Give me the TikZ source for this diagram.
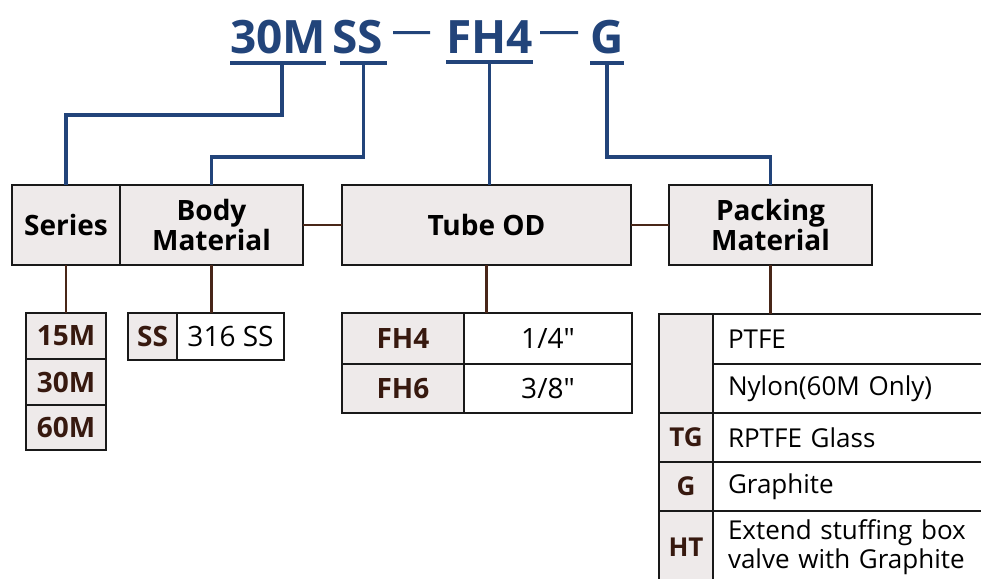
\documentclass[tikz,border=0pt]{standalone}
\usepackage{fontspec}
\setmainfont{Open Sans}[Ligatures=TeXOff]
\usetikzlibrary{positioning}

\definecolor{codeblue}{RGB}{34,68,122}
\definecolor{headgray}{RGB}{238,234,234}
\definecolor{boxline}{RGB}{25,25,25}
\definecolor{feedbrown}{RGB}{72,38,24}
\definecolor{codebrown}{RGB}{55,25,15}

\begin{document}
\begin{tikzpicture}[
        x=1pt, y=-1pt,
        header/.style={rectangle, draw=boxline, line width=2.5pt, fill=headgray, minimum height=80pt, inner sep=0pt, outer sep=0pt, align=center, font=\bfseries\fontsize{28}{30}\selectfont},
        code/.style={inner sep=0pt, text=codeblue, font=\bfseries\fontsize{46}{46}\selectfont},
        codeline/.style={draw=codeblue, line width=4pt},
        codedash/.style={draw=codeblue, line width=3pt},
        link/.style={draw=codeblue, line width=3.5pt},
        feed/.style={draw=feedbrown, line width=2.5pt},
        keycell/.style={rectangle, draw=boxline, line width=2.5pt, fill=headgray, inner sep=0pt, outer sep=0pt, text=codebrown, font=\bfseries\fontsize{28}{30}\selectfont},
        valcell/.style={rectangle, draw=boxline, line width=2.5pt, fill=white, inner sep=0pt, outer sep=0pt, font=\fontsize{28}{30}\selectfont},
        packkey/.style={keycell, minimum width=54pt, font=\bfseries\fontsize{26}{28}\selectfont},
        packval/.style={valcell, minimum width=300pt, text width=270pt, align=left, font=\fontsize{26}{29}\selectfont}
    ]
        \useasboundingbox (0,0) rectangle (981,578);
        \clip (0,0) rectangle (981,578);

        % Part number
        \node[code, anchor=base west] (c30m) at (230,53) {30M};
        \node[code, anchor=base west] (css) at (332,53) {SS};
        \node[code, anchor=base west] (cfh) at (446,53) {FH4};
        \node[code, anchor=base west] (cg) at (590,53) {G};
        \draw[codedash, shorten <=10pt, shorten >=16pt] ([yshift=4pt]css.east) -- ([yshift=4pt]cfh.west);
        \draw[codedash, shorten <=7pt, shorten >=12pt] ([yshift=4pt]cfh.east) -- ([yshift=4pt]cg.west);

        % Underlines
        \draw[codeline] ([yshift=-9pt]c30m.south west) -- ([yshift=-9pt]c30m.south east);
        \draw[codeline] ([xshift=8pt, yshift=-9pt]css.south west) -- ([xshift=4pt, yshift=-9pt]css.south east);
        \draw[codeline] ([yshift=-9pt]cfh.south west) -- ([yshift=-9pt]cfh.south east);
        \draw[codeline] ([yshift=-9pt]cg.south west) -- ([yshift=-9pt]cg.south east);
        \coordinate (u30m) at ([xshift=4pt, yshift=-9pt]c30m.south);
        \coordinate (uss) at ([xshift=6pt, yshift=-9pt]css.south);
        \coordinate (ufh) at ([yshift=-9pt]cfh.south);
        \coordinate (ug) at ([yshift=-9pt]cg.south);

        % Headers
        \node[header, minimum width=108pt] (series) at (66,225) {Series};
        \node[header, minimum width=183pt, right=0pt of series] (body) {Body\\Material};
        \node[header, minimum width=289pt] (tube) at (486.5,225) {Tube OD};
        \node[header, minimum width=203pt] (packing) at (770.5,225) {Packing\\Material};

        % Links from part number
        \coordinate (bendhigh) at (0,115);
        \coordinate (bendlow) at (0,157);
        \draw[link] (u30m) -- (u30m |- bendhigh) -| (series.north);
        \draw[link] (uss) -- (uss |- bendlow) -| (body.north);
        \draw[link] (ufh) -- (ufh |- tube.north);
        \draw[link] (ug) -- (ug |- bendlow) -| (packing.north);

        % Series
        \node[keycell, minimum width=80pt, minimum height=46pt, below=48pt of series] (s15) {15M};
        \node[keycell, minimum width=80pt, minimum height=46pt, below=0pt of s15] (s30) {30M};
        \node[keycell, minimum width=80pt, minimum height=45pt, below=0pt of s30] (s60) {60M};

        % Body material
        \node[keycell, minimum width=49pt, minimum height=47pt, anchor=north west] (sskey) at (128,313) {SS};
        \node[valcell, minimum width=107pt, minimum height=47pt, right=0pt of sskey] (ssval) {316 SS};

        % Tube OD
        \node[keycell, minimum width=122pt, minimum height=51pt, anchor=north west] (fh4) at (342,313) {FH4};
        \node[valcell, minimum width=168pt, minimum height=51pt, right=0pt of fh4] (fh4val) {1/4"};
        \node[keycell, minimum width=122pt, minimum height=49pt, below=0pt of fh4] (fh6) {FH6};
        \node[valcell, minimum width=168pt, minimum height=49pt, right=0pt of fh6] (fh6val) {3/8"};

        % Packing material
        \node[packkey, minimum height=99pt, anchor=north west] (pkblank) at (659,314) {};
        \node[packval, minimum height=50pt, anchor=north west] (ptfe) at (pkblank.north east) {PTFE};
        \node[packval, minimum height=49pt, below=0pt of ptfe] (nylon) {Nylon(60M Only)};
        \node[packkey, minimum height=49pt, below=0pt of pkblank] (tg) {TG};
        \node[packval, minimum height=49pt, right=0pt of tg] (tgval) {RPTFE Glass};
        \node[packkey, minimum height=49pt, below=0pt of tg] (gkey) {G};
        \node[packval, minimum height=49pt, right=0pt of gkey] (gval) {Graphite};
        \node[packkey, minimum height=72pt, below=0pt of gkey] (ht) {HT};
        \node[packval, minimum height=72pt, right=0pt of ht] (htval) {Extend stuffing box\\valve with Graphite};

        % Feeds
        \draw[feed] (body.east) -- (tube.west);
        \draw[feed] (tube.east) -- (packing.west);
        \draw[feed] (series.south) -- (s15.north);
        \draw[feed] (body.south) -- (body.south |- ssval.north);
        \draw[feed] (tube.south) -- (tube.south |- fh4val.north);
        \draw[feed] (packing.south) -- (packing.south |- ptfe.north);
    \end{tikzpicture}
\end{document}
